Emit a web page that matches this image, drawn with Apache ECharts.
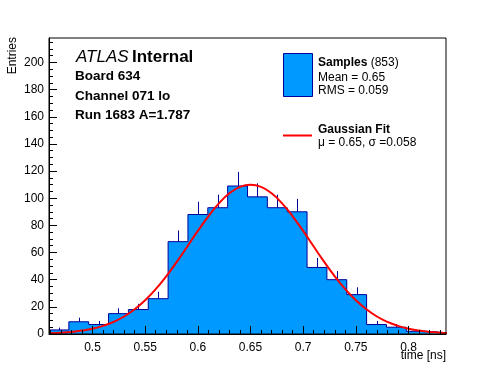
<!DOCTYPE html>
<html>
<head>
<meta charset="utf-8">
<script src="https://cdn.jsdelivr.net/npm/echarts@6/dist/echarts.min.js"></script>
<style>html,body{margin:0;padding:0;background:#fff}#c{width:496px;height:372px}</style>
</head>
<body>
<div id="c"></div>
<script>
// ---- data ----
const XMIN = 0.4587, XMAX = 0.8356, NBINS = 20;
const YMAX = 218;
const counts = [3, 9, 7, 15, 18, 26, 68, 88, 93, 109, 101, 93, 90, 49, 40, 29, 7, 5, 2, 1];
const errors = [1.7, 3, 2.6, 3.9, 4.2, 5.1, 8.2, 9.4, 9.6, 10.4, 10, 9.6, 9.5, 7, 6.3, 5.4, 2.6, 2.2, 1.4, 1];
const fitX = [0.46, 0.47, 0.48, 0.49, 0.50, 0.51, 0.52, 0.53, 0.54, 0.55, 0.56, 0.57, 0.58, 0.59, 0.60, 0.61, 0.62, 0.63, 0.64, 0.65,
              0.66, 0.67, 0.68, 0.69, 0.70, 0.71, 0.72, 0.73, 0.74, 0.75, 0.76, 0.77, 0.78, 0.79, 0.80, 0.81, 0.82, 0.83, 0.84];
const fitY = [0.5, 0.9, 1.5, 2.5, 3.9, 6.0, 8.9, 12.9, 18.2, 24.9, 33.0, 42.5, 53.1, 64.4, 75.9, 86.7, 96.2, 103.6, 108.4, 110,
              108.4, 103.6, 96.2, 86.7, 75.9, 64.4, 53.1, 42.5, 33.0, 24.9, 18.2, 12.9, 8.9, 6.0, 3.9, 2.5, 1.5, 0.9, 0.5];
const xTicks = [0.5, 0.55, 0.6, 0.65, 0.7, 0.75, 0.8];
const xMinorTicks = [0.46, 0.47, 0.48, 0.49, 0.51, 0.52, 0.53, 0.54, 0.56, 0.57, 0.58, 0.59, 0.61, 0.62, 0.63, 0.64,
                     0.66, 0.67, 0.68, 0.69, 0.71, 0.72, 0.73, 0.74, 0.76, 0.77, 0.78, 0.79, 0.81, 0.82, 0.83];
const yTicks = [0, 20, 40, 60, 80, 100, 120, 140, 160, 180, 200];
const yMinorTicks = [5, 10, 15, 25, 30, 35, 45, 50, 55, 65, 70, 75, 85, 90, 95, 105, 110, 115, 125, 130, 135,
                     145, 150, 155, 165, 170, 175, 185, 190, 195, 205, 210, 215];

// ---- build ----
const FONT = '"Liberation Sans", Arial, Helvetica, sans-serif';
const FILL = '#0099ff', LINE = '#000099';
const bw = (XMAX - XMIN) / NBINS;
const edges = [];
for (let i = 0; i <= NBINS; i++) edges.push(XMIN + i * bw);
const stepData = counts.map((c, i) => [edges[i], c]);
stepData.push([edges[NBINS], counts[NBINS - 1]]);
const errData = counts.map((c, i) => [(edges[i] + edges[i + 1]) / 2, c, errors[i]]);
const fitData = fitX.map((x, i) => [x, fitY[i]]);

const chart = echarts.init(document.getElementById('c'), null, {renderer: 'canvas'});
const baseX = {
  type: 'value', min: XMIN, max: XMAX, position: 'bottom', z: 10,
  splitLine: {show: false}
};
const baseY = {
  type: 'value', min: 0, max: YMAX, position: 'left', z: 10,
  splitLine: {show: false}
};
chart.setOption({
  animation: false,
  backgroundColor: '#fff',
  grid: {left: 49, right: 50, top: 38, bottom: 38, show: true, borderColor: '#000', borderWidth: 1, backgroundColor: 'transparent', z: 10},
  xAxis: [
    Object.assign({}, baseX, {
      axisLine: {show: true, lineStyle: {color: '#000', width: 1}},
      axisTick: {show: true, inside: true, length: 8, customValues: xTicks, lineStyle: {color: '#000'}},
      axisLabel: {show: true, customValues: xTicks, margin: 8, color: '#000', fontSize: 12, fontFamily: FONT,
                  formatter: v => String(+(+v).toFixed(2))}
    }),
    Object.assign({}, baseX, {
      axisLine: {show: false},
      axisTick: {show: true, inside: true, length: 4, customValues: xMinorTicks, lineStyle: {color: '#000'}},
      axisLabel: {show: false}
    })
  ],
  yAxis: [
    Object.assign({}, baseY, {
      axisLine: {show: true, lineStyle: {color: '#000', width: 1}},
      axisTick: {show: true, inside: true, length: 8, customValues: yTicks, lineStyle: {color: '#000'}},
      axisLabel: {show: true, customValues: yTicks, margin: 5, color: '#000', fontSize: 12, fontFamily: FONT}
    }),
    Object.assign({}, baseY, {
      axisLine: {show: false},
      axisTick: {show: true, inside: true, length: 4, customValues: yMinorTicks, lineStyle: {color: '#000'}},
      axisLabel: {show: false}
    })
  ],
  series: [
    {
      type: 'line', step: 'end', data: stepData, xAxisIndex: 0, yAxisIndex: 0,
      showSymbol: false, symbol: 'none',
      lineStyle: {color: LINE, width: 1},
      areaStyle: {color: FILL, opacity: 1},
      z: 2
    },
    {
      type: 'custom', data: errData, xAxisIndex: 0, yAxisIndex: 0, z: 3,
      renderItem: function (params, api) {
        const x = api.value(0), c = api.value(1), e = api.value(2);
        const p1 = api.coord([x, c]);
        const p2 = api.coord([x, c + e]);
        const px = Math.round(p1[0]) + 0.5;
        return {type: 'line', shape: {x1: px, y1: p1[1], x2: px, y2: p2[1]},
                style: {stroke: LINE, lineWidth: 1}};
      }
    },
    {
      type: 'line', data: fitData, smooth: true, showSymbol: false, symbol: 'none', clip: true,
      lineStyle: {color: '#ff0000', width: 2}, z: 4
    }
  ],
  graphic: [
    {type: 'text', x: 76, y: 57.5, style: {
      text: '{a|ATLAS} {b|Internal}', verticalAlign: 'middle', align: 'left',
      rich: {a: {fontStyle: 'italic', fontWeight: 'normal', fontSize: 17, fontFamily: FONT, fill: '#000'},
             b: {fontWeight: 'bold', fontSize: 17, fontFamily: FONT, fill: '#000'}}}},
    {type: 'text', x: 75, y: 76.5, style: {text: 'Board 634', font: 'bold 13.5px ' + FONT, fill: '#000', verticalAlign: 'middle'}},
    {type: 'text', x: 75, y: 96, style: {text: 'Channel 071 lo', font: 'bold 13.5px ' + FONT, fill: '#000', verticalAlign: 'middle'}},
    {type: 'text', x: 75, y: 115.5, style: {text: 'Run 1683 A=1.787', font: 'bold 13.5px ' + FONT, fill: '#000', verticalAlign: 'middle'}},
    {type: 'rect', shape: {x: 283.5, y: 53.5, width: 29, height: 43}, style: {fill: FILL, stroke: LINE, lineWidth: 1}},
    {type: 'text', x: 318, y: 62.5, style: {
      text: '{b|Samples} {n|(853)}', verticalAlign: 'middle',
      rich: {b: {fontWeight: 'bold', fontSize: 12, fontFamily: FONT, fill: '#000'},
             n: {fontSize: 12, fontFamily: FONT, fill: '#000'}}}},
    {type: 'text', x: 318, y: 77.5, style: {text: 'Mean = 0.65', font: '12px ' + FONT, fill: '#000', verticalAlign: 'middle'}},
    {type: 'text', x: 318, y: 91, style: {text: 'RMS = 0.059', font: '12px ' + FONT, fill: '#000', verticalAlign: 'middle'}},
    {type: 'line', shape: {x1: 283, y1: 135.5, x2: 312, y2: 135.5}, style: {stroke: '#ff0000', lineWidth: 2}},
    {type: 'text', x: 318, y: 130, style: {text: 'Gaussian Fit', font: 'bold 12px ' + FONT, fill: '#000', verticalAlign: 'middle'}},
    {type: 'text', x: 318, y: 142.5, style: {text: 'μ = 0.65, σ =0.058', font: '12px ' + FONT, fill: '#000', verticalAlign: 'middle'}},
    {type: 'text', x: 446, y: 355.5, style: {text: 'time [ns]', font: '12px ' + FONT, fill: '#000', align: 'right', verticalAlign: 'middle'}},
    {type: 'text', x: 13, y: 37, rotation: Math.PI / 2, style: {text: 'Entries', font: '12px ' + FONT, fill: '#000', align: 'right', verticalAlign: 'middle'}}
  ]
});
</script>
</body>
</html>
